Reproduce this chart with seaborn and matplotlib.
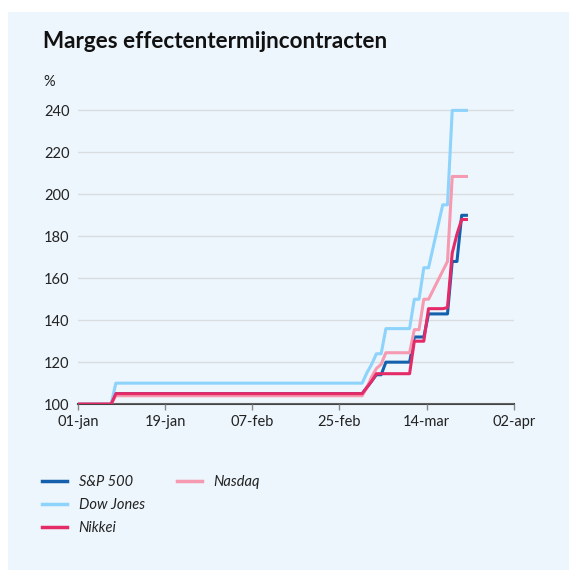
# Marges effectentermijncontracten - lijngrafiek
import pandas as pd
import numpy as np
import matplotlib.pyplot as plt
import seaborn as sns
from matplotlib.lines import Line2D
from matplotlib.patches import Rectangle

# Data (dagen sinds 1 januari, marge in % van beginniveau)
dagen = [0, 7, 8, 60, 61, 62, 63, 64, 65, 70, 71, 72, 73, 74, 75, 76, 77, 78, 79, 80, 81, 82]
sp500 = [100, 100, 105, 105, 108, 111, 114, 114, 120, 120, 132, 132, 132, 143, 143, 143, 143, 143, 168, 168, 190, 190]
dow_jones = [100, 100, 110, 110, 115, 119, 124, 124, 136, 136, 150, 150, 165, 165, 175, 185, 195, 195, 240, 240, 240, 240]
nikkei = [100, 100, 105, 105, 108, 111, 114.5, 114.5, 114.5, 114.5, 130, 130, 130, 145.5, 145.5, 145.5, 145.5, 146, 172, 181, 188, 188]
nasdaq = [100, 100, 104, 104, 108, 113, 117, 119, 124.5, 124.5, 135.5, 135.5, 150, 150, 154.5, 159, 163.5, 168, 208.5, 208.5, 208.5, 208.5]

reeksen = ['S&P 500', 'Dow Jones', 'Nikkei', 'Nasdaq']
kleuren = {'S&P 500': '#1560AC', 'Dow Jones': '#8DD3FB', 'Nikkei': '#E52A68', 'Nasdaq': '#F59AB1'}
x_labels = ['01-jan', '19-jan', '07-feb', '25-feb', '14-mar', '02-apr']

# lange tabel voor seaborn
df = pd.concat([
    pd.DataFrame({'dag': dagen, 'waarde': sp500, 'index': 'S&P 500'}),
    pd.DataFrame({'dag': dagen, 'waarde': dow_jones, 'index': 'Dow Jones'}),
    pd.DataFrame({'dag': dagen, 'waarde': nikkei, 'index': 'Nikkei'}),
    pd.DataFrame({'dag': dagen, 'waarde': nasdaq, 'index': 'Nasdaq'}),
])

plt.rcParams['font.family'] = ['Lato', 'DejaVu Sans']
bg = '#EDF6FD'
tekst = '#222222'

fig = plt.figure(figsize=(5.69, 5.70), dpi=100)
fig.patch.set_facecolor('white')
fig.add_artist(Rectangle((8 / 569, 0), 1, 558 / 570, transform=fig.transFigure,
                         facecolor=bg, edgecolor='none', zorder=-10))

ax = fig.add_axes([0.137, 0.291, 0.766, 0.519])
ax.set_facecolor(bg)

# tekenvolgorde: Nikkei bovenop
sns.lineplot(data=df, x='dag', y='waarde', hue='index',
             hue_order=['S&P 500', 'Dow Jones', 'Nasdaq', 'Nikkei'],
             palette=kleuren, linewidth=2.2, estimator=None, legend=False, ax=ax)

ax.set_xlim(0, 92)
ax.set_ylim(100, 241)
ax.set_xticks(np.linspace(0, 92, 6))
ax.set_xticklabels(x_labels)
ax.set_yticks(range(100, 241, 20))
ax.set_xlabel('')
ax.set_ylabel('')

ax.yaxis.grid(True, color='#DADDE0', linewidth=1)
ax.xaxis.grid(False)
ax.set_axisbelow(True)
for s in ['top', 'right', 'left']:
    ax.spines[s].set_visible(False)
ax.spines['bottom'].set_color('#444444')
ax.spines['bottom'].set_linewidth(1.5)
ax.spines['bottom'].set_zorder(0.5)

ax.tick_params(axis='y', length=0, pad=6, labelsize=10.5, labelcolor=tekst)
ax.tick_params(axis='x', length=4, width=1, color='#888888', pad=4, labelsize=10.5, labelcolor=tekst)

# titel en eenheid
fig.text(43 / 569, 1 - 41 / 570, 'Marges effectentermijncontracten', fontsize=16.2,
         fontweight='bold', color='#111111', va='center', ha='left')
fig.text(43 / 569, 1 - 82 / 570, '%', fontsize=10.5, color=tekst, va='center', ha='left')

# legenda: 3 items in eerste kolom, Nasdaq in tweede
handles = [Line2D([], [], color=kleuren[r], linewidth=2.5) for r in reeksen]
labels = list(reeksen)
handles += [Line2D([], [], color='none'), Line2D([], [], color='none')]
labels += ['', '']
fig.legend(handles, labels, loc='upper left', bbox_to_anchor=(29 / 569, 1 - 462 / 570),
           ncol=2, frameon=False, handlelength=1.7, handletextpad=0.8,
           columnspacing=2.2, labelspacing=0.62,
           prop={'style': 'italic', 'size': 10.5}, labelcolor=tekst)

plt.savefig('out.png', dpi=100, facecolor=fig.get_facecolor())
